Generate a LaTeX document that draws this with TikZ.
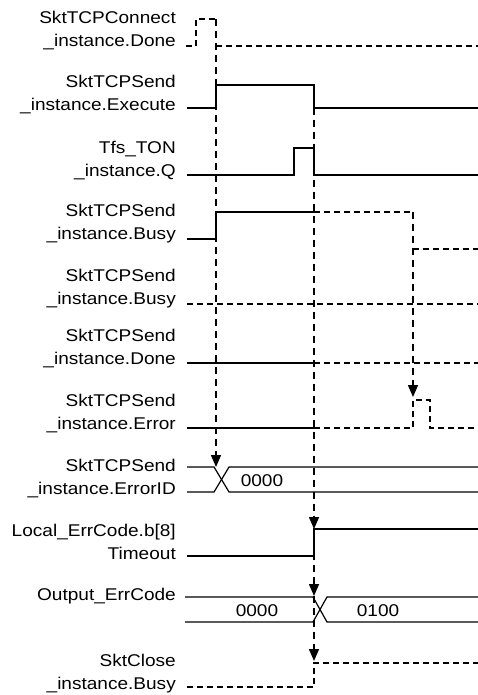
\documentclass[tikz,border=0pt]{standalone}
\usepackage{fontspec}
\setmainfont{Liberation Sans}[FakeStretch=1.12]
\usetikzlibrary{arrows.meta}
\begin{document}
\begin{tikzpicture}[x=1pt,y=-1pt,
  lbl/.style={anchor=east,align=right,inner sep=0pt,font=\fontsize{17}{23}\selectfont},
  val/.style={inner sep=0pt,font=\fontsize{17}{20}\selectfont},
  sig/.style={line width=1.2pt},
  dsig/.style={line width=1.2pt,dash pattern=on 6pt off 4pt},
  evt/.style={line width=1.5pt,dash pattern=on 7pt off 5pt,-{Triangle[length=12pt,width=10pt]}}]
\useasboundingbox (0,0) rectangle (478,695);
% labels
\node[lbl] (l1) at (176,30.5) {SktTCPConnect\\\_instance.Done};
\node[lbl] (l2) at (176,95) {SktTCPSend\\\_instance.Execute};
\node[lbl] (l3) at (176,160.5) {Tfs\_TON\\\_instance.Q};
\node[lbl] (l4) at (176,224) {SktTCPSend\\\_instance.Busy};
\node[lbl] (l5) at (176,288.5) {SktTCPSend\\\_instance.Busy};
\node[lbl] (l6) at (176,349) {SktTCPSend\\\_instance.Done};
\node[lbl] (l7) at (176,413.5) {SktTCPSend\\\_instance.Error};
\node[lbl] (l8) at (176,479) {SktTCPSend\\\_instance.ErrorID};
\node[lbl] (l9) at (176,541.5) {Local\_ErrCode.b[8]\\Timeout};
\node[lbl] (l10) at (176,596) {Output\_ErrCode};
\node[lbl] (l11) at (176,674) {SktClose\\\_instance.Busy};
% signals
\draw[dsig] (186,46) -- (196,46) -- (196,19) -- (216,19);
\draw[dsig] (216,46) -- (478,46);
\draw[sig] (187,108) -- (216,108) -- (216,85) -- (314,85) -- (314,108) -- (478,108);
\draw[sig] (187,175) -- (294,175) -- (294,148) -- (314,148) -- (314,175) -- (478,175);
\draw[sig] (187,239) -- (216,239) -- (216,212) -- (314,212);
\draw[dsig] (314,212) -- (413,212);
\draw[dsig] (413,249) -- (478,249);
\draw[dsig] (187,304) -- (478,304);
\draw[sig] (187,363) -- (314,363);
\draw[dsig] (314,363) -- (478,363);
\draw[sig] (187,428) -- (314,428);
\draw[dsig] (314,428) -- (413,428) -- (413,400) -- (430,400) -- (430,428) -- (478,428);
\draw[sig] (187,467) -- (214,467) -- (229,492) -- (478,492);
\draw[sig] (187,492) -- (214,492) -- (229,467) -- (478,467);
\node[val] (v1) at (262,481) {0000};
\draw[sig] (187,556) -- (314,556) -- (314,529) -- (478,529);
\draw[sig] (185,597) -- (313,597) -- (327,622) -- (478,622);
\draw[sig] (185,622) -- (313,622) -- (327,597) -- (478,597);
\node[val] (v2) at (257,611) {0000};
\node[val] (v3) at (378,611) {0100};
\draw[dsig] (187,687) -- (314,687) -- (314,663) -- (478,663);
% event connectors
\coordinate (a1) at (216,19);
\coordinate (a1t) at (216,467);
\coordinate (b1) at (314,108);
\coordinate (b1t) at (314,529);
\coordinate (b2t) at (314,596);
\coordinate (b3t) at (314,661);
\coordinate (c1) at (413,212);
\coordinate (c1t) at (413,397);
\draw[evt] (a1) -- (a1t);
\draw[evt] (b1) -- (b1t);
\draw[evt] (b1t) -- (b2t);
\draw[evt] (b2t) -- (b3t);
\draw[evt] (c1) -- (c1t);
\end{tikzpicture}
\end{document}
